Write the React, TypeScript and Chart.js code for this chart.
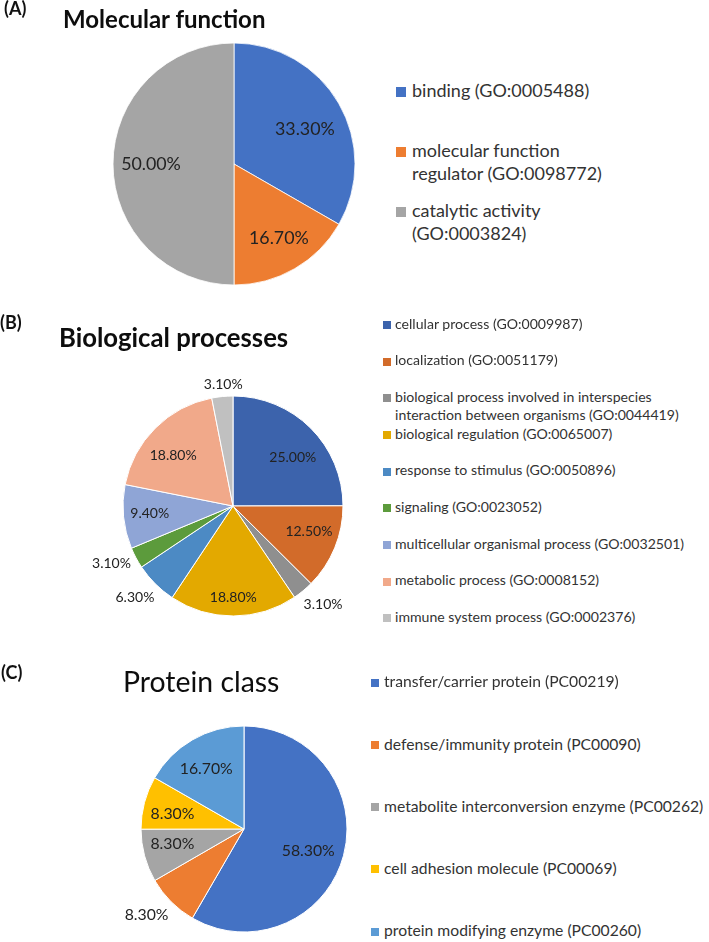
import React, { useEffect, useRef } from "react";
import { Chart, registerables } from "chart.js";

Chart.register(...registerables);

// ---------- data ----------
const mfLabels = [
  "binding (GO:0005488)",
  "molecular function\nregulator (GO:0098772)",
  "catalytic activity\n(GO:0003824)",
];
const mfValues = [33.3, 16.7, 50.0];
const mfColors = ["#4472C4", "#ED7D31", "#A5A5A5"];

const bpLabels = [
  "cellular process (GO:0009987)",
  "localization (GO:0051179)",
  "biological process involved in interspecies\ninteraction between organisms (GO:0044419)",
  "biological regulation (GO:0065007)",
  "response to stimulus (GO:0050896)",
  "signaling (GO:0023052)",
  "multicellular organismal process (GO:0032501)",
  "metabolic process (GO:0008152)",
  "immune system process (GO:0002376)",
];
const bpValues = [25.0, 12.5, 3.1, 18.8, 6.3, 3.1, 9.4, 18.8, 3.1];
const bpColors = [
  "#3C63AC",
  "#D26B2A",
  "#8F8F8F",
  "#E3A900",
  "#4C8AC4",
  "#5C9B3C",
  "#8FA5D6",
  "#F1A98A",
  "#C0C0C0",
];

const pcLabels = [
  "transfer/carrier protein (PC00219)",
  "defense/immunity protein (PC00090)",
  "metabolite interconversion enzyme (PC00262)",
  "cell adhesion molecule (PC00069)",
  "protein modifying enzyme (PC00260)",
];
const pcValues = [58.3, 8.3, 8.3, 8.3, 16.7];
const pcColors = ["#4472C4", "#ED7D31", "#A5A5A5", "#FFC000", "#5B9BD5"];

// ---------- layout / style ----------
type Panel = {
  letter: string;
  letterX: number;
  letterBase: number;
  title: string;
  titleBold: boolean;
  titleX: number;
  titleBase: number;
  titleSize: number;
  labels: string[];
  values: number[];
  colors: string[];
  canvas: { left: number; top: number; width: number; height: number };
  center: { x: number; y: number };
  radius: number;
  borderWidth: number;
  labelFont: number;
  placement: [number, number][];
  legend: {
    swatchX: number;
    swatch: number;
    textX: number;
    font: number;
    lineH: number;
    firstY: number;
    step: number;
  };
};

const FONT = "Lato, 'Open Sans', sans-serif";

const panels: Panel[] = [
  {
    letter: "(A)",
    letterX: 4,
    letterBase: 16,
    title: "Molecular function",
    titleBold: true,
    titleX: 63,
    titleBase: 28.5,
    titleSize: 24,
    labels: mfLabels,
    values: mfValues,
    colors: mfColors,
    canvas: { left: 0, top: 0, width: 380, height: 300 },
    center: { x: 234, y: 164 },
    radius: 121,
    borderWidth: 0.8,
    labelFont: 17.8,
    placement: [
      [0.653, 3.8],
      [0.719, -1],
      [0.686, 0],
    ],
    legend: { swatchX: 396, swatch: 10, textX: 412, font: 18, lineH: 23.3, firstY: 92, step: 59.85 },
  },
  {
    letter: "(B)",
    letterX: 0,
    letterBase: 330,
    title: "Biological processes",
    titleBold: true,
    titleX: 59,
    titleBase: 347,
    titleSize: 25.7,
    labels: bpLabels,
    values: bpValues,
    colors: bpColors,
    canvas: { left: 0, top: 300, width: 380, height: 340 },
    center: { x: 233, y: 506 },
    radius: 110,
    borderWidth: 1,
    labelFont: 14,
    placement: [
      [0.7, 6],
      [0.727, -4],
      [1.21, -3],
      [0.83, 0],
      [1.22, 2],
      [1.22, 3],
      [0.76, 0.6],
      [0.71, -5],
      [1.11, 1],
    ],
    legend: { swatchX: 383, swatch: 8, textX: 395, font: 14.1, lineH: 18.3, firstY: 325, step: 36.67 },
  },
  {
    letter: "(C)",
    letterX: 1,
    letterBase: 679.5,
    title: "Protein class",
    titleBold: false,
    titleX: 123,
    titleBase: 692,
    titleSize: 28.4,
    labels: pcLabels,
    values: pcValues,
    colors: pcColors,
    canvas: { left: 0, top: 640, width: 370, height: 302 },
    center: { x: 244, y: 829 },
    radius: 103,
    borderWidth: 1,
    labelFont: 15.8,
    placement: [
      [0.66, 4],
      [1.26, 3.6],
      [0.71, 3.5],
      [0.71, -3],
      [0.69, -2],
    ],
    legend: { swatchX: 371, swatch: 8, textX: 384, font: 15.7, lineH: 19, firstY: 682.7, step: 62.25 },
  },
];

const ASC = 0.987; // Lato ascent (em)

function sliceLabelPlugin(cfg: Panel) {
  return {
    id: "sliceLabels",
    afterDatasetsDraw(chart: any) {
      const ctx = chart.ctx as CanvasRenderingContext2D;
      const meta = chart.getDatasetMeta(0);
      ctx.save();
      ctx.font = `${cfg.labelFont}px ${FONT}`;
      ctx.fillStyle = "#222222";
      ctx.textAlign = "center";
      ctx.textBaseline = "middle";
      meta.data.forEach((arc: any, i: number) => {
        const p = arc.getProps(["x", "y", "startAngle", "endAngle", "outerRadius"], true);
        const [f, nudge] = cfg.placement[i];
        const a = (p.startAngle + p.endAngle) / 2 + (nudge * Math.PI) / 180;
        const r = p.outerRadius * f;
        ctx.fillText(`${cfg.values[i].toFixed(2)}%`, p.x + Math.cos(a) * r, p.y + Math.sin(a) * r);
      });
      ctx.restore();
    },
  };
}

function PiePanel({ cfg }: { cfg: Panel }) {
  const ref = useRef<HTMLCanvasElement | null>(null);

  useEffect(() => {
    const el = ref.current;
    if (!el) return;
    const { canvas, center, radius } = cfg;
    const cx = center.x - canvas.left;
    const cy = center.y - canvas.top;
    const m = 2;
    const chart = new Chart(el, {
      type: "pie",
      data: {
        labels: cfg.labels.map((l) => l.replace("\n", " ")),
        datasets: [
          {
            data: cfg.values,
            backgroundColor: cfg.colors,
            borderColor: "#ffffff",
            borderWidth: cfg.borderWidth,
          },
        ],
      },
      options: {
        responsive: false,
        maintainAspectRatio: false,
        animation: false,
        devicePixelRatio: 1,
        events: [],
        radius: radius,
        layout: {
          padding: {
            left: cx - radius - m,
            right: canvas.width - (cx + radius + m),
            top: cy - radius - m,
            bottom: canvas.height - (cy + radius + m),
          },
        },
        plugins: {
          legend: { display: false },
          tooltip: { enabled: false },
          title: { display: false },
        },
      } as any,
      plugins: [sliceLabelPlugin(cfg)],
    });
    return () => chart.destroy();
  }, [cfg]);

  const lg = cfg.legend;
  const legendNodes: React.ReactNode[] = [];
  cfg.labels.forEach((label, i) => {
    const cyLine = lg.firstY + i * lg.step;
    legendNodes.push(
      <div
        key={`sw${i}`}
        style={{
          position: "absolute",
          left: lg.swatchX,
          top: cyLine - lg.swatch / 2,
          width: lg.swatch,
          height: lg.swatch,
          background: cfg.colors[i],
        }}
      />
    );
    label.split("\n").forEach((line, j) => {
      const c = cyLine + j * lg.lineH;
      legendNodes.push(
        <div
          key={`t${i}_${j}`}
          style={{
            position: "absolute",
            left: lg.textX,
            top: c + 0.33 * lg.font - ASC * lg.font,
            fontSize: lg.font,
            lineHeight: `${1.2 * lg.font}px`,
            fontFamily: FONT,
            color: "#333333",
            whiteSpace: "nowrap",
          }}
        >
          {line}
        </div>
      );
    });
  });

  return (
    <>
      <canvas
        ref={ref}
        width={cfg.canvas.width}
        height={cfg.canvas.height}
        style={{
          position: "absolute",
          left: cfg.canvas.left,
          top: cfg.canvas.top,
          width: cfg.canvas.width,
          height: cfg.canvas.height,
        }}
      />
      <div
        style={{
          position: "absolute",
          left: cfg.letterX,
          top: cfg.letterBase - ASC * 18,
          fontSize: 18,
          lineHeight: `${1.2 * 18}px`,
          fontWeight: 700,
          fontFamily: FONT,
          color: "#111",
          whiteSpace: "nowrap",
        }}
      >
        {cfg.letter}
      </div>
      <div
        style={{
          position: "absolute",
          left: cfg.titleX,
          top: cfg.titleBase - ASC * cfg.titleSize,
          fontSize: cfg.titleSize,
          lineHeight: `${1.2 * cfg.titleSize}px`,
          fontWeight: cfg.titleBold ? 700 : 400,
          fontFamily: FONT,
          color: "#0d0d0d",
          whiteSpace: "nowrap",
        }}
      >
        {cfg.title}
      </div>
      {legendNodes}
    </>
  );
}

export default function App() {
  return (
    <div
      style={{
        position: "absolute",
        left: 0,
        top: 0,
        width: 709,
        height: 942,
        background: "#ffffff",
        overflow: "hidden",
      }}
    >
      {panels.map((p) => (
        <PiePanel key={p.letter} cfg={p} />
      ))}
    </div>
  );
}
